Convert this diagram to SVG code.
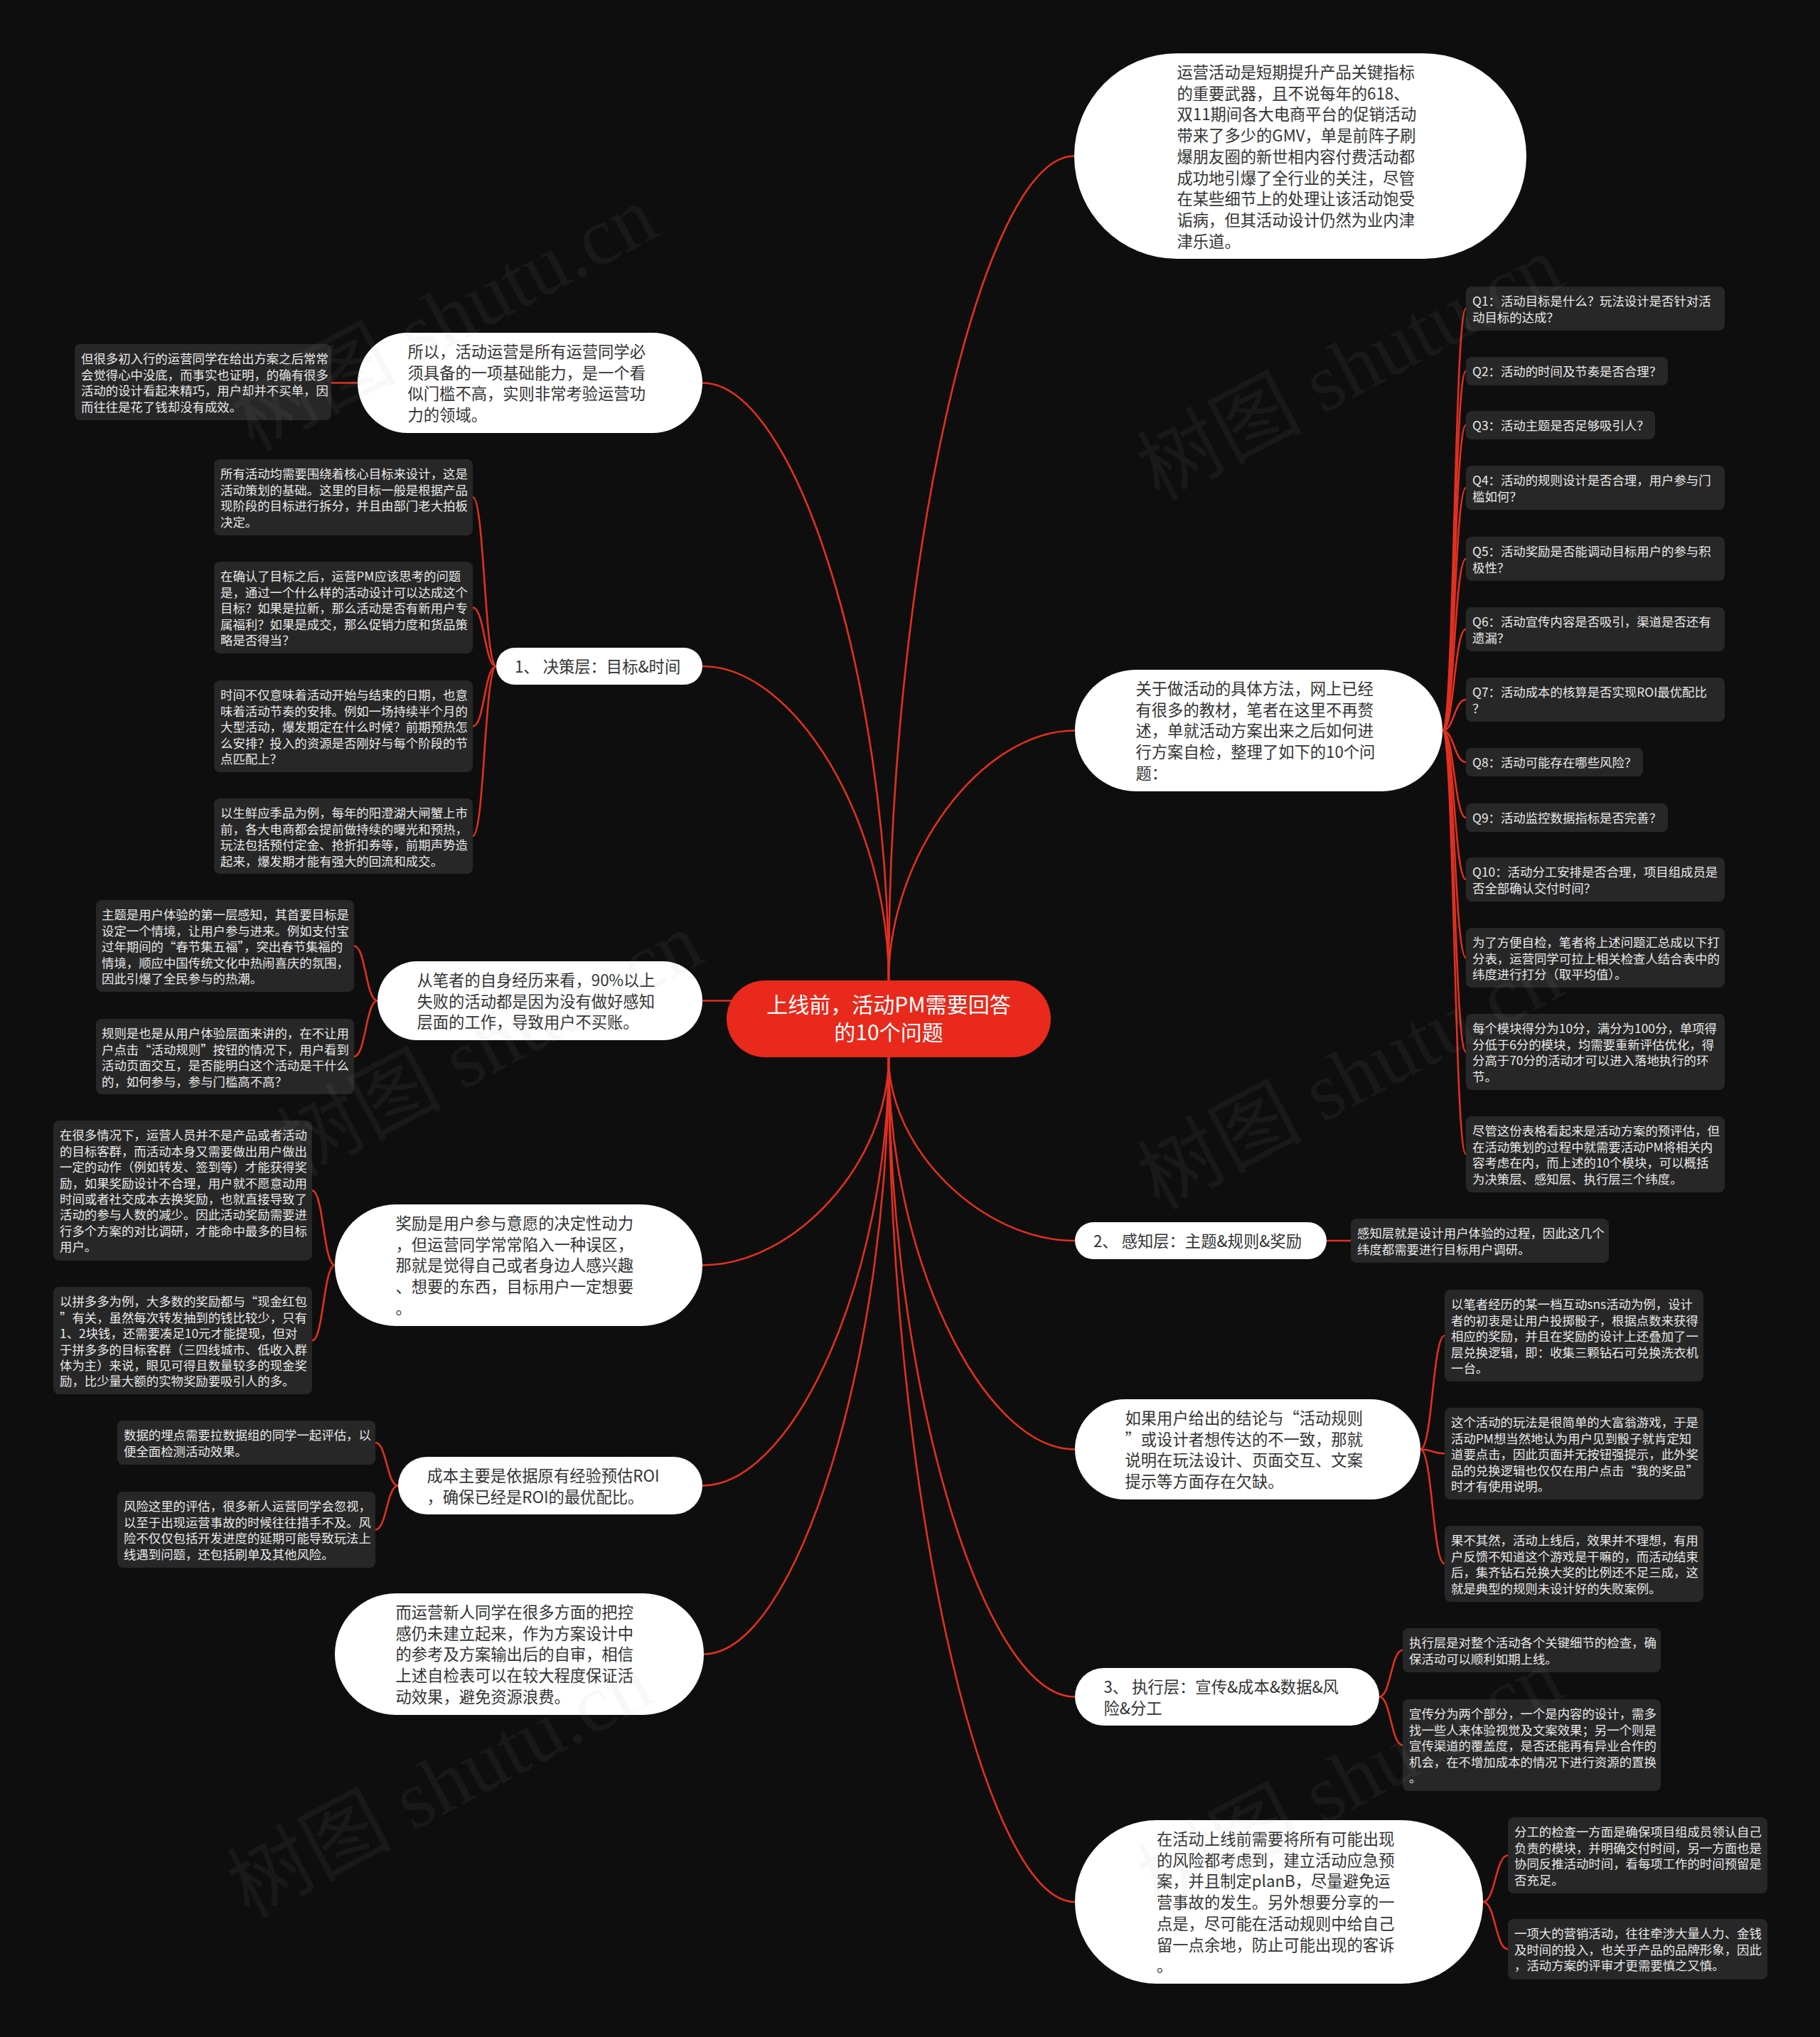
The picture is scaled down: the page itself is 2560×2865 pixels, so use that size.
<svg xmlns="http://www.w3.org/2000/svg" width="2560" height="2865" viewBox="0 0 2560 2865">
<style>
.lnk{fill:none;stroke:#e2301f;stroke-width:2.6}
.wn{fill:#ffffff}
.wt{font-family:"Noto Sans CJK SC","Noto Sans",sans-serif;font-size:22.3px;fill:#333333}
.db{fill:#272727}
.dt{font-family:"Noto Sans CJK SC","Noto Sans",sans-serif;font-size:17.4px;fill:#e9e9e9}
.ct{font-family:"Noto Sans CJK SC","Noto Sans",sans-serif;font-size:30px;fill:#ffffff;text-anchor:middle}
.wm{font-family:"Liberation Serif","Noto Sans CJK SC",serif;font-size:116px;fill:#a0a0a0;fill-opacity:0.08}
</style>
<rect width="2560" height="2865" fill="#0e0e0e"/>
<g id="connectors">
<path class="lnk" d="M1250 1379 C1250 799 1380.5 219.5 1511 219.5"/>
<path class="lnk" d="M1250 1379 C1250 1203 1381 1027.5 1512 1027.5"/>
<path class="lnk" d="M1250 1379 C1250 959 1119 538.5 988 538.5"/>
<path class="lnk" d="M1250 1379 C1250 1158 1119 937 988 937"/>
<path class="lnk" d="M988 1407.5 L1040 1407.5"/>
<path class="lnk" d="M1250 1487 C1250 1616 1381 1745 1512 1745"/>
<path class="lnk" d="M1250 1487 C1250 1762.75 1381 2038.5 1512 2038.5"/>
<path class="lnk" d="M1250 1487 C1250 1936.75 1381 2386.5 1512 2386.5"/>
<path class="lnk" d="M1250 1487 C1250 2081 1381 2675 1512 2675"/>
<path class="lnk" d="M1250 1487 C1250 1633.25 1119 1779.5 988 1779.5"/>
<path class="lnk" d="M1250 1487 C1250 1788.25 1119 2089.5 988 2089.5"/>
<path class="lnk" d="M1250 1487 C1250 1906.75 1120 2326.5 990 2326.5"/>
<path class="lnk" d="M503 538.5 L466 538.5"/>
<path class="lnk" d="M698 937 C681.5 937 681.5 699.5 665 699.5"/>
<path class="lnk" d="M698 937 C681.5 937 681.5 854.5 665 854.5"/>
<path class="lnk" d="M698 937 C681.5 937 681.5 1021.5 665 1021.5"/>
<path class="lnk" d="M698 937 C681.5 937 681.5 1176 665 1176"/>
<path class="lnk" d="M531 1407.5 C514.5 1407.5 514.5 1330.5 498 1330.5"/>
<path class="lnk" d="M531 1407.5 C514.5 1407.5 514.5 1486 498 1486"/>
<path class="lnk" d="M471 1779.5 C455 1779.5 455 1674.5 439 1674.5"/>
<path class="lnk" d="M471 1779.5 C455 1779.5 455 1885.5 439 1885.5"/>
<path class="lnk" d="M560 2089.5 C544 2089.5 544 2029 528 2029"/>
<path class="lnk" d="M560 2089.5 C544 2089.5 544 2151.5 528 2151.5"/>
<path class="lnk" d="M2029 1027.5 C2045.5 1027.5 2045.5 434 2062 434"/>
<path class="lnk" d="M2029 1027.5 C2045.5 1027.5 2045.5 522 2062 522"/>
<path class="lnk" d="M2029 1027.5 C2045.5 1027.5 2045.5 598 2062 598"/>
<path class="lnk" d="M2029 1027.5 C2045.5 1027.5 2045.5 686 2062 686"/>
<path class="lnk" d="M2029 1027.5 C2045.5 1027.5 2045.5 786 2062 786"/>
<path class="lnk" d="M2029 1027.5 C2045.5 1027.5 2045.5 885 2062 885"/>
<path class="lnk" d="M2029 1027.5 C2045.5 1027.5 2045.5 984 2062 984"/>
<path class="lnk" d="M2029 1027.5 C2045.5 1027.5 2045.5 1072 2062 1072"/>
<path class="lnk" d="M2029 1027.5 C2045.5 1027.5 2045.5 1150 2062 1150"/>
<path class="lnk" d="M2029 1027.5 C2045.5 1027.5 2045.5 1237 2062 1237"/>
<path class="lnk" d="M2029 1027.5 C2045.5 1027.5 2045.5 1347 2062 1347"/>
<path class="lnk" d="M2029 1027.5 C2045.5 1027.5 2045.5 1479.5 2062 1479.5"/>
<path class="lnk" d="M2029 1027.5 C2045.5 1027.5 2045.5 1623.5 2062 1623.5"/>
<path class="lnk" d="M1866 1745 L1900 1745"/>
<path class="lnk" d="M1998 2038.5 C2015 2038.5 2015 1878.5 2032 1878.5"/>
<path class="lnk" d="M1998 2038.5 C2015 2038.5 2015 2044.5 2032 2044.5"/>
<path class="lnk" d="M1998 2038.5 C2015 2038.5 2015 2199.5 2032 2199.5"/>
<path class="lnk" d="M1940 2386.5 C1956.5 2386.5 1956.5 2321 1973 2321"/>
<path class="lnk" d="M1940 2386.5 C1956.5 2386.5 1956.5 2454.5 1973 2454.5"/>
<path class="lnk" d="M2086 2675 C2103.5 2675 2103.5 2609.5 2121 2609.5"/>
<path class="lnk" d="M2086 2675 C2103.5 2675 2103.5 2741.5 2121 2741.5"/>
</g>

<g id="center">
<rect x="1022" y="1379" width="456" height="108" rx="54" fill="#e8291c"/>
<text class="ct"><tspan x="1250" y="1424">上线前，活动PM需要回答</tspan><tspan x="1250" y="1463">的10个问题</tspan></text>
</g>

<g id="n-yunying">
<rect class="wn" x="1511" y="75" width="636" height="289" rx="144.5"/>
<text class="wt"><tspan x="1655.5" y="110">运营活动是短期提升产品关键指标</tspan><tspan x="1655.5" y="139.7">的重要武器，且不说每年的618、</tspan><tspan x="1655.5" y="169.4">双11期间各大电商平台的促销活动</tspan><tspan x="1655.5" y="199.1">带来了多少的GMV，单是前阵子刷</tspan><tspan x="1655.5" y="228.8">爆朋友圈的新世相内容付费活动都</tspan><tspan x="1655.5" y="258.5">成功地引爆了全行业的关注，尽管</tspan><tspan x="1655.5" y="288.2">在某些细节上的处理让该活动饱受</tspan><tspan x="1655.5" y="317.9">诟病，但其活动设计仍然为业内津</tspan><tspan x="1655.5" y="347.6">津乐道。</tspan></text>
</g>

<g id="n-guanyu">
<rect class="wn" x="1512" y="942" width="517" height="171" rx="85.5"/>
<text class="wt"><tspan x="1597.5" y="977">关于做活动的具体方法，网上已经</tspan><tspan x="1597.5" y="1006.7">有很多的教材，笔者在这里不再赘</tspan><tspan x="1597.5" y="1036.4">述，单就活动方案出来之后如何进</tspan><tspan x="1597.5" y="1066.1">行方案自检，整理了如下的10个问</tspan><tspan x="1597.5" y="1095.8">题：</tspan></text>
</g>

<g id="q-list">
<rect class="db" x="2062" y="403" width="364" height="62" rx="8"/>
<text class="dt"><tspan x="2071" y="430.3">Q1：活动目标是什么？玩法设计是否针对活</tspan><tspan x="2071" y="452.7">动目标的达成？</tspan></text>
<rect class="db" x="2062" y="502" width="284" height="40" rx="8"/>
<text class="dt"><tspan x="2071" y="528.8">Q2：活动的时间及节奏是否合理？</tspan></text>
<rect class="db" x="2062" y="578" width="266" height="40" rx="8"/>
<text class="dt"><tspan x="2071" y="604.8">Q3：活动主题是否足够吸引人？</tspan></text>
<rect class="db" x="2062" y="655" width="364" height="62" rx="8"/>
<text class="dt"><tspan x="2071" y="682.3">Q4：活动的规则设计是否合理，用户参与门</tspan><tspan x="2071" y="704.7">槛如何？</tspan></text>
<rect class="db" x="2062" y="755" width="364" height="62" rx="8"/>
<text class="dt"><tspan x="2071" y="782.3">Q5：活动奖励是否能调动目标用户的参与积</tspan><tspan x="2071" y="804.7">极性？</tspan></text>
<rect class="db" x="2062" y="854" width="364" height="62" rx="8"/>
<text class="dt"><tspan x="2071" y="881.3">Q6：活动宣传内容是否吸引，渠道是否还有</tspan><tspan x="2071" y="903.7">遗漏？</tspan></text>
<rect class="db" x="2062" y="953" width="364" height="62" rx="8"/>
<text class="dt"><tspan x="2071" y="980.3">Q7：活动成本的核算是否实现ROI最优配比</tspan><tspan x="2071" y="1002.7">？</tspan></text>
<rect class="db" x="2062" y="1052" width="249" height="40" rx="8"/>
<text class="dt"><tspan x="2071" y="1078.8">Q8：活动可能存在哪些风险？</tspan></text>
<rect class="db" x="2062" y="1130" width="284" height="40" rx="8"/>
<text class="dt"><tspan x="2071" y="1156.8">Q9：活动监控数据指标是否完善？</tspan></text>
<rect class="db" x="2062" y="1206" width="364" height="62" rx="8"/>
<text class="dt"><tspan x="2071" y="1233.3">Q10：活动分工安排是否合理，项目组成员是</tspan><tspan x="2071" y="1255.7">否全部确认交付时间？</tspan></text>
<rect class="db" x="2062" y="1305" width="364" height="84" rx="8"/>
<text class="dt"><tspan x="2071" y="1332.3">为了方便自检，笔者将上述问题汇总成以下打</tspan><tspan x="2071" y="1354.7">分表，运营同学可拉上相关检查人结合表中的</tspan><tspan x="2071" y="1377.1">纬度进行打分（取平均值）。</tspan></text>
<rect class="db" x="2062" y="1426" width="364" height="107" rx="8"/>
<text class="dt"><tspan x="2071" y="1453.3">每个模块得分为10分，满分为100分，单项得</tspan><tspan x="2071" y="1475.7">分低于6分的模块，均需要重新评估优化，得</tspan><tspan x="2071" y="1498.1">分高于70分的活动才可以进入落地执行的环</tspan><tspan x="2071" y="1520.5">节。</tspan></text>
<rect class="db" x="2062" y="1570" width="364" height="107" rx="8"/>
<text class="dt"><tspan x="2071" y="1597.3">尽管这份表格看起来是活动方案的预评估，但</tspan><tspan x="2071" y="1619.7">在活动策划的过程中就需要活动PM将相关内</tspan><tspan x="2071" y="1642.1">容考虑在内，而上述的10个模块，可以概括</tspan><tspan x="2071" y="1664.5">为决策层、感知层、执行层三个纬度。</tspan></text>
</g>

<g id="n-suoyi">
<rect class="wn" x="503" y="468" width="485" height="141" rx="70.5"/>
<text class="wt"><tspan x="573.5" y="503">所以，活动运营是所有运营同学必</tspan><tspan x="573.5" y="532.7">须具备的一项基础能力，是一个看</tspan><tspan x="573.5" y="562.4">似门槛不高，实则非常考验运营功</tspan><tspan x="573.5" y="592.1">力的领域。</tspan></text>
</g>
<g id="d-danhen">
<rect class="db" x="105" y="484" width="361" height="107" rx="8"/>
<text class="dt"><tspan x="114" y="511.3">但很多初入行的运营同学在给出方案之后常常</tspan><tspan x="114" y="533.7">会觉得心中没底，而事实也证明，的确有很多</tspan><tspan x="114" y="556.1">活动的设计看起来精巧，用户却并不买单，因</tspan><tspan x="114" y="578.5">而往往是花了钱却没有成效。</tspan></text>
</g>

<g id="n-juece">
<rect class="wn" x="698" y="911" width="290" height="52" rx="26"/>
<text class="wt"><tspan x="724" y="945.5">1、 决策层：目标&amp;时间</tspan></text>
</g>
<g id="d-juece">
<rect class="db" x="301" y="646" width="364" height="107" rx="8"/>
<text class="dt"><tspan x="310" y="673.3">所有活动均需要围绕着核心目标来设计，这是</tspan><tspan x="310" y="695.7">活动策划的基础。这里的目标一般是根据产品</tspan><tspan x="310" y="718.1">现阶段的目标进行拆分，并且由部门老大拍板</tspan><tspan x="310" y="740.5">决定。</tspan></text>
<rect class="db" x="301" y="790" width="364" height="129" rx="8"/>
<text class="dt"><tspan x="310" y="817.3">在确认了目标之后，运营PM应该思考的问题</tspan><tspan x="310" y="839.7">是，通过一个什么样的活动设计可以达成这个</tspan><tspan x="310" y="862.1">目标？如果是拉新，那么活动是否有新用户专</tspan><tspan x="310" y="884.5">属福利？如果是成交，那么促销力度和货品策</tspan><tspan x="310" y="906.9">略是否得当？</tspan></text>
<rect class="db" x="301" y="957" width="364" height="129" rx="8"/>
<text class="dt"><tspan x="310" y="984.3">时间不仅意味着活动开始与结束的日期，也意</tspan><tspan x="310" y="1006.7">味着活动节奏的安排。例如一场持续半个月的</tspan><tspan x="310" y="1029.1">大型活动，爆发期定在什么时候？前期预热怎</tspan><tspan x="310" y="1051.5">么安排？投入的资源是否刚好与每个阶段的节</tspan><tspan x="310" y="1073.9">点匹配上？</tspan></text>
<rect class="db" x="301" y="1123" width="364" height="106" rx="8"/>
<text class="dt"><tspan x="310" y="1150.3">以生鲜应季品为例，每年的阳澄湖大闸蟹上市</tspan><tspan x="310" y="1172.7">前，各大电商都会提前做持续的曝光和预热，</tspan><tspan x="310" y="1195.1">玩法包括预付定金、抢折扣券等，前期声势造</tspan><tspan x="310" y="1217.5">起来，爆发期才能有强大的回流和成交。</tspan></text>
</g>

<g id="n-congbi">
<rect class="wn" x="531" y="1352" width="457" height="111" rx="55.5"/>
<text class="wt"><tspan x="586.5" y="1387">从笔者的自身经历来看，90%以上</tspan><tspan x="586.5" y="1416.7">失败的活动都是因为没有做好感知</tspan><tspan x="586.5" y="1446.4">层面的工作，导致用户不买账。</tspan></text>
</g>
<g id="d-congbi">
<rect class="db" x="135" y="1266" width="363" height="129" rx="8"/>
<text class="dt"><tspan x="143" y="1293.3">主题是用户体验的第一层感知，其首要目标是</tspan><tspan x="143" y="1315.7">设定一个情境，让用户参与进来。例如支付宝</tspan><tspan x="143" y="1338.1">过年期间的“春节集五福”，突出春节集福的</tspan><tspan x="143" y="1360.5">情境，顺应中国传统文化中热闹喜庆的氛围，</tspan><tspan x="143" y="1382.9">因此引爆了全民参与的热潮。</tspan></text>
<rect class="db" x="135" y="1433" width="363" height="106" rx="8"/>
<text class="dt"><tspan x="143" y="1460.3">规则是也是从用户体验层面来讲的，在不让用</tspan><tspan x="143" y="1482.7">户点击“活动规则”按钮的情况下，用户看到</tspan><tspan x="143" y="1505.1">活动页面交互，是否能明白这个活动是干什么</tspan><tspan x="143" y="1527.5">的，如何参与，参与门槛高不高？</tspan></text>
</g>

<g id="n-jiangli">
<rect class="wn" x="471" y="1694" width="517" height="171" rx="85.5"/>
<text class="wt"><tspan x="556.5" y="1729">奖励是用户参与意愿的决定性动力</tspan><tspan x="556.5" y="1758.7">，但运营同学常常陷入一种误区，</tspan><tspan x="556.5" y="1788.4">那就是觉得自己或者身边人感兴趣</tspan><tspan x="556.5" y="1818.1">、想要的东西，目标用户一定想要</tspan><tspan x="556.5" y="1847.8">。</tspan></text>
</g>
<g id="d-jiangli">
<rect class="db" x="75" y="1576" width="364" height="197" rx="8"/>
<text class="dt"><tspan x="84" y="1603.3">在很多情况下，运营人员并不是产品或者活动</tspan><tspan x="84" y="1625.7">的目标客群，而活动本身又需要做出用户做出</tspan><tspan x="84" y="1648.1">一定的动作（例如转发、签到等）才能获得奖</tspan><tspan x="84" y="1670.5">励，如果奖励设计不合理，用户就不愿意动用</tspan><tspan x="84" y="1692.9">时间或者社交成本去换奖励，也就直接导致了</tspan><tspan x="84" y="1715.3">活动的参与人数的减少。因此活动奖励需要进</tspan><tspan x="84" y="1737.7">行多个方案的对比调研，才能命中最多的目标</tspan><tspan x="84" y="1760.1">用户。</tspan></text>
<rect class="db" x="75" y="1810" width="364" height="151" rx="8"/>
<text class="dt"><tspan x="84" y="1837.3">以拼多多为例，大多数的奖励都与“现金红包</tspan><tspan x="84" y="1859.7">”有关，虽然每次转发抽到的钱比较少，只有</tspan><tspan x="84" y="1882.1">1、2块钱，还需要凑足10元才能提现，但对</tspan><tspan x="84" y="1904.5">于拼多多的目标客群（三四线城市、低收入群</tspan><tspan x="84" y="1926.9">体为主）来说，眼见可得且数量较多的现金奖</tspan><tspan x="84" y="1949.3">励，比少量大额的实物奖励要吸引人的多。</tspan></text>
</g>

<g id="n-chengben">
<rect class="wn" x="560" y="2049" width="428" height="81" rx="40.5"/>
<text class="wt"><tspan x="600.5" y="2084">成本主要是依据原有经验预估ROI</tspan><tspan x="600.5" y="2113.7">，确保已经是ROI的最优配比。</tspan></text>
</g>
<g id="d-chengben">
<rect class="db" x="165" y="1998" width="363" height="62" rx="8"/>
<text class="dt"><tspan x="174" y="2025.3">数据的埋点需要拉数据组的同学一起评估，以</tspan><tspan x="174" y="2047.7">便全面检测活动效果。</tspan></text>
<rect class="db" x="165" y="2098" width="363" height="107" rx="8"/>
<text class="dt"><tspan x="174" y="2125.3">风险这里的评估，很多新人运营同学会忽视，</tspan><tspan x="174" y="2147.7">以至于出现运营事故的时候往往措手不及。风</tspan><tspan x="174" y="2170.1">险不仅仅包括开发进度的延期可能导致玩法上</tspan><tspan x="174" y="2192.5">线遇到问题，还包括刷单及其他风险。</tspan></text>
</g>

<g id="n-eryun">
<rect class="wn" x="471" y="2241" width="519" height="171" rx="85.5"/>
<text class="wt"><tspan x="556.5" y="2276">而运营新人同学在很多方面的把控</tspan><tspan x="556.5" y="2305.7">感仍未建立起来，作为方案设计中</tspan><tspan x="556.5" y="2335.4">的参考及方案输出后的自审，相信</tspan><tspan x="556.5" y="2365.1">上述自检表可以在较大程度保证活</tspan><tspan x="556.5" y="2394.8">动效果，避免资源浪费。</tspan></text>
</g>

<g id="n-ganzhi">
<rect class="wn" x="1512" y="1719" width="354" height="52" rx="26"/>
<text class="wt"><tspan x="1538" y="1753.5">2、 感知层：主题&amp;规则&amp;奖励</tspan></text>
</g>
<g id="d-ganzhi">
<rect class="db" x="1900" y="1714" width="363" height="62" rx="8"/>
<text class="dt"><tspan x="1909" y="1741.3">感知层就是设计用户体验的过程，因此这几个</tspan><tspan x="1909" y="1763.7">纬度都需要进行目标用户调研。</tspan></text>
</g>

<g id="n-ruguo">
<rect class="wn" x="1512" y="1968" width="486" height="141" rx="70.5"/>
<text class="wt"><tspan x="1582.5" y="2003">如果用户给出的结论与“活动规则</tspan><tspan x="1582.5" y="2032.7">”或设计者想传达的不一致，那就</tspan><tspan x="1582.5" y="2062.4">说明在玩法设计、页面交互、文案</tspan><tspan x="1582.5" y="2092.1">提示等方面存在欠缺。</tspan></text>
</g>
<g id="d-ruguo">
<rect class="db" x="2032" y="1814" width="364" height="129" rx="8"/>
<text class="dt"><tspan x="2041" y="1841.3">以笔者经历的某一档互动sns活动为例，设计</tspan><tspan x="2041" y="1863.7">者的初衷是让用户投掷骰子，根据点数来获得</tspan><tspan x="2041" y="1886.1">相应的奖励，并且在奖励的设计上还叠加了一</tspan><tspan x="2041" y="1908.5">层兑换逻辑，即：收集三颗钻石可兑换洗衣机</tspan><tspan x="2041" y="1930.9">一台。</tspan></text>
<rect class="db" x="2032" y="1980" width="364" height="129" rx="8"/>
<text class="dt"><tspan x="2041" y="2007.3">这个活动的玩法是很简单的大富翁游戏，于是</tspan><tspan x="2041" y="2029.7">活动PM想当然地认为用户见到骰子就肯定知</tspan><tspan x="2041" y="2052.1">道要点击，因此页面并无按钮强提示，此外奖</tspan><tspan x="2041" y="2074.5">品的兑换逻辑也仅仅在用户点击“我的奖品”</tspan><tspan x="2041" y="2096.9">时才有使用说明。</tspan></text>
<rect class="db" x="2032" y="2146" width="364" height="107" rx="8"/>
<text class="dt"><tspan x="2041" y="2173.3">果不其然，活动上线后，效果并不理想，有用</tspan><tspan x="2041" y="2195.7">户反馈不知道这个游戏是干嘛的，而活动结束</tspan><tspan x="2041" y="2218.1">后，集齐钻石兑换大奖的比例还不足三成，这</tspan><tspan x="2041" y="2240.5">就是典型的规则未设计好的失败案例。</tspan></text>
</g>

<g id="n-zhixing">
<rect class="wn" x="1512" y="2346" width="428" height="81" rx="40.5"/>
<text class="wt"><tspan x="1552.5" y="2381">3、 执行层：宣传&amp;成本&amp;数据&amp;风</tspan><tspan x="1552.5" y="2410.7">险&amp;分工</tspan></text>
</g>
<g id="d-zhixing">
<rect class="db" x="1973" y="2290" width="363" height="62" rx="8"/>
<text class="dt"><tspan x="1982" y="2317.3">执行层是对整个活动各个关键细节的检查，确</tspan><tspan x="1982" y="2339.7">保活动可以顺利如期上线。</tspan></text>
<rect class="db" x="1973" y="2390" width="363" height="129" rx="8"/>
<text class="dt"><tspan x="1982" y="2417.3">宣传分为两个部分，一个是内容的设计，需多</tspan><tspan x="1982" y="2439.7">找一些人来体验视觉及文案效果；另一个则是</tspan><tspan x="1982" y="2462.1">宣传渠道的覆盖度，是否还能再有异业合作的</tspan><tspan x="1982" y="2484.5">机会，在不增加成本的情况下进行资源的置换</tspan><tspan x="1982" y="2506.9">。</tspan></text>
</g>

<g id="n-zaihuodong">
<rect class="wn" x="1512" y="2560" width="574" height="230" rx="115"/>
<text class="wt"><tspan x="1627" y="2595">在活动上线前需要将所有可能出现</tspan><tspan x="1627" y="2624.7">的风险都考虑到，建立活动应急预</tspan><tspan x="1627" y="2654.4">案，并且制定planB，尽量避免运</tspan><tspan x="1627" y="2684.1">营事故的发生。另外想要分享的一</tspan><tspan x="1627" y="2713.8">点是，尽可能在活动规则中给自己</tspan><tspan x="1627" y="2743.5">留一点余地，防止可能出现的客诉</tspan><tspan x="1627" y="2773.2">。</tspan></text>
</g>
<g id="d-zaihuodong">
<rect class="db" x="2121" y="2556" width="365" height="107" rx="8"/>
<text class="dt"><tspan x="2130" y="2583.3">分工的检查一方面是确保项目组成员领认自己</tspan><tspan x="2130" y="2605.7">负责的模块，并明确交付时间，另一方面也是</tspan><tspan x="2130" y="2628.1">协同反推活动时间，看每项工作的时间预留是</tspan><tspan x="2130" y="2650.5">否充足。</tspan></text>
<rect class="db" x="2121" y="2699" width="365" height="85" rx="8"/>
<text class="dt"><tspan x="2130" y="2726.3">一项大的营销活动，往往牵涉大量人力、金钱</tspan><tspan x="2130" y="2748.7">及时间的投入，也关乎产品的品牌形象，因此</tspan><tspan x="2130" y="2771.1">，活动方案的评审才更需要慎之又慎。</tspan></text>
</g>

<g id="watermark">
<text class="wm" transform="translate(356 635) rotate(-28)">树图 shutu.cn</text>
<text class="wm" transform="translate(1630 705) rotate(-28)">树图 shutu.cn</text>
<text class="wm" transform="translate(420 1656) rotate(-28)">树图 shutu.cn</text>
<text class="wm" transform="translate(1630 1702) rotate(-28)">树图 shutu.cn</text>
<text class="wm" transform="translate(350 2698) rotate(-28)">树图 shutu.cn</text>
<text class="wm" transform="translate(1630 2690) rotate(-28)">树图 shutu.cn</text>
</g>
</svg>
